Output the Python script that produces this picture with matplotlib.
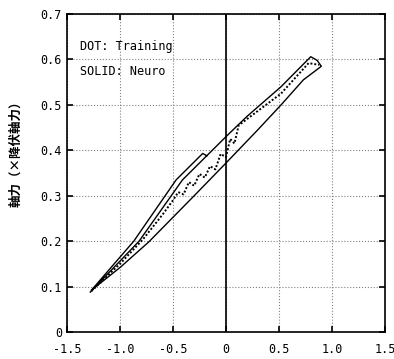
import matplotlib
matplotlib.use("Agg")
import matplotlib.pyplot as plt

# Neuro (solid): middle up-branch -> top corner -> lower return -> upper-left branch
neuro_x = [-1.28, -0.82, -0.41, 0.00, 0.20, 0.52, 0.80, 0.86, 0.90,
           0.73, 0.52, 0.30, 0.00, -0.30, -0.73, -1.00, -1.27,
           -0.87, -0.47, -0.22, -0.18]
neuro_y = [0.088, 0.200, 0.335, 0.430, 0.475, 0.540, 0.606, 0.598, 0.585,
           0.555, 0.500, 0.445, 0.372, 0.300, 0.198, 0.142, 0.092,
           0.200, 0.335, 0.393, 0.388]

# Training (dotted): jagged middle branch, then second upper line to the tip
train_x = [-1.27, -1.00, -0.78, -0.60, -0.50, -0.45, -0.40, -0.35, -0.30, -0.25, -0.20, -0.15,
           -0.10, -0.05, 0.00, 0.04, 0.08, 0.12, 0.52, 0.78, 0.88]
train_y = [0.090, 0.150, 0.205, 0.258, 0.290, 0.308, 0.303, 0.330, 0.322, 0.348, 0.340, 0.365,
           0.358, 0.392, 0.385, 0.425, 0.415, 0.455, 0.525, 0.592, 0.588]

x_ticks = [-1.5, -1.0, -0.5, 0, 0.5, 1.0, 1.5]
x_labels = ["-1.5", "-1.0", "-0.5", "0", "0.5", "1.0", "1.5"]
y_ticks = [0, 0.1, 0.2, 0.3, 0.4, 0.5, 0.6, 0.7]
y_labels = ["0", "0.1", "0.2", "0.3", "0.4", "0.5", "0.6", "0.7"]

fig = plt.figure(figsize=(3.94, 3.59), dpi=100)
ax = fig.add_axes([0.170, 0.075, 0.807, 0.886])

ax.plot(train_x, train_y, color="black", lw=1.4, ls=(0, (1, 1)))
ax.plot(neuro_x, neuro_y, color="black", lw=1.0)
ax.axvline(0, color="black", lw=1.2)

ax.set_xlim(-1.5, 1.5)
ax.set_ylim(0, 0.7)
ax.set_xticks(x_ticks)
ax.set_xticklabels(x_labels, family="DejaVu Sans Mono", fontsize=8.5)
ax.set_yticks(y_ticks)
ax.set_yticklabels(y_labels, family="DejaVu Sans Mono", fontsize=8.5)
ax.tick_params(direction="in", top=True, right=True, length=4, width=1.2)
ax.tick_params(axis="x", pad=8)
ax.grid(True, ls=":", color="gray", lw=0.8)
for s in ax.spines.values():
    s.set_linewidth(1.2)

ax.text(-1.38, 0.628, "DOT: Training", family="DejaVu Sans Mono", fontsize=8.5, va="center")
ax.text(-1.38, 0.573, "SOLID: Neuro", family="DejaVu Sans Mono", fontsize=8.5, va="center")

ax.set_ylabel("軸力（×降伏軸力）", family=["Noto Sans CJK JP", "DejaVu Sans"],
              fontsize=9, fontweight="bold")
ax.yaxis.set_label_coords(-0.14, 0.57)

fig.savefig("out.png", dpi=100)
